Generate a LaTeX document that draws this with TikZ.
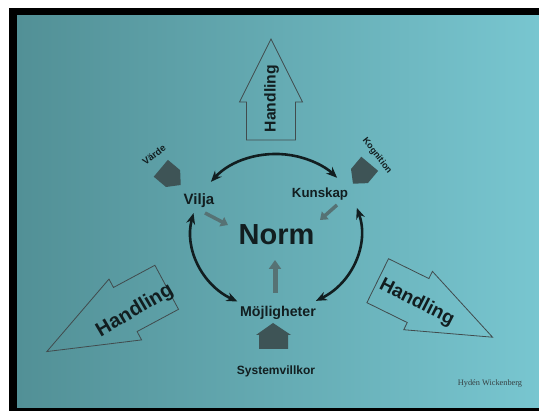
\documentclass[tikz,border=0pt]{standalone}
\usepackage{fontspec}
\setmainfont{Liberation Serif}
\setsansfont{Liberation Sans}
\usetikzlibrary{calc,arrows.meta,positioning}

\definecolor{paperL}{RGB}{82,144,150}
\definecolor{paperR}{RGB}{120,198,208}
\definecolor{ink}{RGB}{18,30,32}
\definecolor{houseGrey}{RGB}{62,84,86}
\definecolor{minorGrey}{RGB}{86,114,116}

\begin{document}
\begin{tikzpicture}[x=1pt,y=1pt]

\tikzset{word/.style={font=\sffamily\bfseries,text=ink,inner sep=0pt},
blockarrow/.style={draw=ink!80,line width=0.8pt,line join=miter},
cycarrow/.style={draw=ink,line width=2.6pt,{Stealth[length=11pt,width=9pt]}-{Stealth[length=11pt,width=9pt]}},
minor/.style={draw=minorGrey,line width=3.5pt,-{Triangle[length=7pt,width=10pt]}},
house/.style={fill=houseGrey,draw=none}}

% paper and frame
\useasboundingbox (0,0) rectangle (539,414);
\fill[white] (0,0) rectangle (539,414);
\fill[black] (9,3) rectangle (539,406);
\fill[left color=paperL,right color=paperR] (17,6) rectangle (539,398);

% centre of the circle
\coordinate (mid) at (276,182);

% names round the circle
\node[word,font=\sffamily\bfseries\fontsize{29}{29}\selectfont] (norm) at (276.5,179) {Norm};
\node[word,font=\sffamily\bfseries\fontsize{15}{15}\selectfont] (vilja) at (199,213) {Vilja};
\node[word,font=\sffamily\bfseries\fontsize{13.3}{13.3}\selectfont] (kunskap) at (320,220) {Kunskap};
\node[word,font=\sffamily\bfseries\fontsize{14.2}{14.2}\selectfont] (mojl) at (278,101) {Möjligheter};
\node[word,font=\sffamily\bfseries\fontsize{12}{12}\selectfont] (system) at (276,43) {Systemvillkor};
\node[word,rotate=38,font=\sffamily\bfseries\fontsize{9.5}{9.5}\selectfont] (varde) at (154,259) {Värde};
\node[word,rotate=-52,font=\sffamily\bfseries\fontsize{9}{9}\selectfont] (kogn) at (377,258) {Kognition};
\node[inner sep=0pt,text=ink!85,font=\fontsize{8.3}{8.3}\selectfont] (sign) at (490,30) {Hydén Wickenberg};

% circle arcs
\draw[cycarrow,shift={(mid)}] (140:85 and 78) arc[start angle=140,end angle=44,x radius=85,y radius=78];
\draw[cycarrow,shift={(mid)}] (166:85 and 78) arc[start angle=166,end angle=243,x radius=85,y radius=78];
\draw[cycarrow,shift={(mid)}] (18:85 and 78) arc[start angle=18,end angle=-62,x radius=85,y radius=78];

% small arrows into Norm
\coordinate (vs) at (205,201); \coordinate (ve) at (228,189);
\coordinate (ks) at (337,209); \coordinate (ke) at (320,194);
\coordinate (ms) at (275,121); \coordinate (me) at (275,154);
\draw[minor] (vs) -- (ve);
\draw[minor] (ks) -- (ke);
\draw[minor,line width=5pt,-{Triangle[length=9pt,width=12pt]}] (ms) -- (me);

% grey houses
\begin{scope}[shift={(170,238)},rotate=-40]
\fill[house] (-12,-11) -- (4,-11) -- (14,0) -- (4,11) -- (-12,11) -- cycle;
\end{scope}
\begin{scope}[shift={(362,241)},rotate=-130]
\fill[house] (-12,-11) -- (4,-11) -- (14,0) -- (4,11) -- (-12,11) -- cycle;
\end{scope}
\fill[house] (259,65) -- (288,65) -- (288,79) -- (291,79) -- (273,91) -- (256,79) -- (259,79) -- cycle;

% Handling arrows
\begin{scope}[shift={(271,274)},rotate=90]
\draw[blockarrow] (0,-24.5) -- (38,-24.5) -- (38,-31.5) -- (101,0) -- (38,31.5) -- (38,24.5) -- (0,24.5) -- cycle;
\end{scope}
\begin{scope}[shift={(166.7,126.7)},rotate=208.2]
\draw[blockarrow] (0,-25) -- (47,-25) -- (47,-34.5) -- (136,0) -- (47,34.5) -- (47,25) -- (0,25) -- cycle;
\end{scope}
\begin{scope}[shift={(377.7,133.3)},rotate=-26.2]
\draw[blockarrow] (0,-24.5) -- (45,-24.5) -- (45,-32.5) -- (128,0) -- (45,32.5) -- (45,24.5) -- (0,24.5) -- cycle;
\end{scope}
\node[word,rotate=90,font=\sffamily\bfseries\fontsize{15.7}{15.7}\selectfont] (hUp) at (271.5,315.5) {Handling};
\node[word,rotate=30.5,font=\sffamily\bfseries\fontsize{20}{20}\selectfont] (hLeft) at (135,103) {Handling};
\node[word,rotate=-27,font=\sffamily\bfseries\fontsize{19}{19}\selectfont] (hRight) at (416.7,111.5) {Handling};

\end{tikzpicture}
\end{document}
